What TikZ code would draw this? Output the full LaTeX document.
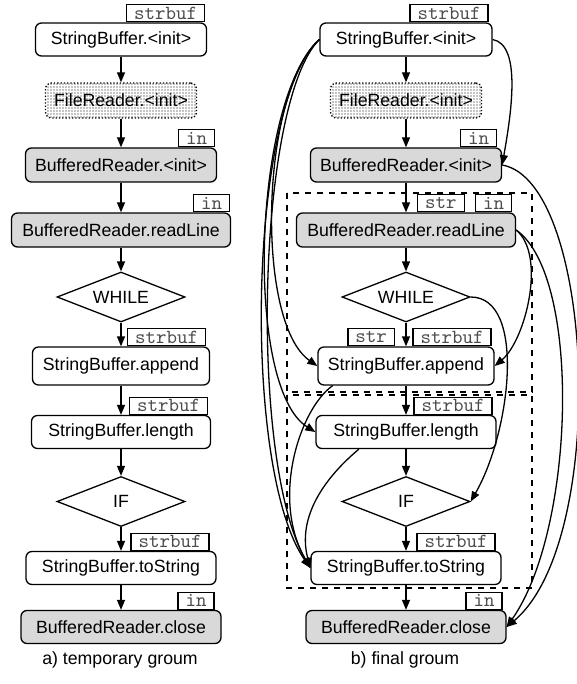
\documentclass[tikz,border=0pt]{standalone}
\usepackage{fontspec}
\setmainfont{Liberation Sans}
\usetikzlibrary{positioning,shapes.geometric,arrows.meta,patterns.meta}
\newcommand{\vartag}[4]{\node[vartag, anchor=south east] (#1) at ([xshift=#3]#2) {#4};}
\tikzset{
  call/.style={draw, rounded corners=3pt, minimum height=16.5pt, inner sep=0pt, line width=0.65pt},
  brcall/.style={call, fill=black!15},
  frcall/.style={call, densely dotted, pattern={Dots[distance=1.5pt, radius=0.36pt]}},
  ctrl/.style={diamond, draw, aspect=2.56, minimum width=64pt, minimum height=25pt, inner sep=0pt, line width=0.65pt},
  vartag/.style={draw, inner xsep=3.75pt, inner ysep=0pt, minimum height=8.5pt, line width=0.65pt, text=black!70, font=\ttfamily\fontsize{10}{10}\selectfont},
  flow/.style={-{Triangle[length=5pt, width=4pt]}, line width=0.65pt},
  groupbox/.style={draw, dashed, line width=0.8pt}
}

\begin{document}
\begin{tikzpicture}[on grid, font=\fontsize{8.85}{10.6}\selectfont]
\useasboundingbox (0,0) rectangle (288.5pt,-342pt);
% a) temporary groum
\node[call, minimum width=85.5pt] (lsbinit) at (60.5pt,-19.75pt) {StringBuffer.<init>};
\node[frcall, minimum width=75.5pt, minimum height=17.5pt, below=30.5pt of lsbinit] (lfrinit) {FileReader.<init>};
\node[brcall, minimum width=95.5pt, minimum height=17pt, below=32.25pt of lfrinit] (lbrinit) {BufferedReader.<init>};
\node[brcall, minimum width=109.5pt, minimum height=17pt, below=32.5pt of lbrinit] (lreadline) {BufferedReader.readLine};
\node[ctrl, below=33.5pt of lreadline] (lwhile) {WHILE};
\node[call, minimum width=88.5pt, minimum height=19pt, below=34.5pt of lwhile] (lappend) {StringBuffer.append};
\node[call, minimum width=89.5pt, below=33pt of lappend] (llength) {StringBuffer.length};
\node[ctrl, below=34.75pt of llength] (lif) {IF};
\node[call, minimum width=95pt, below=33.25pt of lif] (ltostring) {StringBuffer.toString};
\node[brcall, minimum width=100pt, below=29.5pt of ltostring] (lclose) {BufferedReader.close};
\vartag{ltsb}{lsbinit.north east}{-1pt}{strbuf}
\vartag{ltbi}{lbrinit.north east}{-1pt}{in}
\vartag{ltrl}{lreadline.north east}{-0.5pt}{in}
\vartag{ltap}{lappend.north east}{-2pt}{strbuf}
\vartag{ltle}{llength.north east}{-1.5pt}{strbuf}
\vartag{ltts}{ltostring.north east}{-3.5pt}{strbuf}
\vartag{ltcl}{lclose.north east}{-3.5pt}{in}
\draw[flow] (lsbinit) -- (lfrinit);
\draw[flow] (lfrinit) -- (lbrinit);
\draw[flow] (lbrinit) -- (lreadline);
\draw[flow] (lreadline) -- (lwhile);
\draw[flow] (lwhile) -- (lappend);
\draw[flow] (lappend) -- (llength);
\draw[flow] (llength) -- (lif);
\draw[flow] (lif) -- (ltostring);
\draw[flow] (ltostring) -- (lclose);
\node (lcap) at (60pt,-330pt) {a) temporary groum};
% b) final groum
\node[call, minimum width=86pt] (rsbinit) at (203pt,-19.75pt) {StringBuffer.<init>};
\node[frcall, minimum width=75.5pt, minimum height=17.5pt, below=30.5pt of rsbinit] (rfrinit) {FileReader.<init>};
\node[brcall, minimum width=95.5pt, minimum height=17pt, below=32.25pt of rfrinit] (rbrinit) {BufferedReader.<init>};
\node[brcall, minimum width=109.5pt, minimum height=17pt, below=32.5pt of rbrinit] (rreadline) {BufferedReader.readLine};
\node[ctrl, below=33.5pt of rreadline] (rwhile) {WHILE};
\node[call, minimum width=88pt, minimum height=19pt, below=34.5pt of rwhile] (rappend) {StringBuffer.append};
\node[call, minimum width=90pt, below=33pt of rappend] (rlength) {StringBuffer.length};
\node[ctrl, below=34.75pt of rlength] (rif) {IF};
\node[call, minimum width=95pt, below=33.25pt of rif] (rtostring) {StringBuffer.toString};
\node[brcall, minimum width=100pt, below=29.5pt of rtostring] (rclose) {BufferedReader.close};
\vartag{rtsb}{rsbinit.north east}{-2pt}{strbuf}
\vartag{rtbi}{rbrinit.north east}{-2.5pt}{in}
\vartag{rtrl}{rreadline.north east}{-2pt}{in}
\vartag{rtrs}{rtrl.south west}{-5pt}{str}
\vartag{rtap}{rappend.north east}{-1.5pt}{strbuf}
\vartag{rtas}{rappend.north}{-5.5pt}{str}
\vartag{rtle}{rlength.north east}{-2pt}{strbuf}
\vartag{rtts}{rtostring.north east}{-3pt}{strbuf}
\vartag{rtcl}{rclose.north east}{-2pt}{in}
\draw[groupbox] (143.5pt,-96.5pt) rectangle (266pt,-196pt);
\draw[groupbox] (143.5pt,-197.5pt) rectangle (266pt,-294pt);
\draw[flow] (rsbinit) -- (rfrinit);
\draw[flow] (rfrinit) -- (rbrinit);
\draw[flow] (rbrinit) -- (rreadline);
\draw[flow] (rreadline) -- (rwhile);
\draw[flow] (rwhile) -- (rappend);
\draw[flow] (rappend) -- (rlength);
\draw[flow] (rlength) -- (rif);
\draw[flow] (rif) -- (rtostring);
\draw[flow] (rtostring) -- (rclose);
% dependency edges
\draw[flow] (rsbinit.east) to[out=-10, in=80, out distance=15pt, in distance=25pt] (rbrinit.east);
\draw[flow] (rsbinit.west) to[out=222, in=145, out distance=40pt, in distance=38pt] (rappend.west);
\draw[flow] (rsbinit.west) to[out=222, in=148, out distance=45pt, in distance=42pt] (rlength.west);
\draw[flow] (rsbinit.west) to[out=225, in=120, out distance=44pt, in distance=62pt] (rtostring.west);
\draw[flow] (rsbinit.west) to[out=222, in=125, out distance=48pt, in distance=60pt] (rtostring.west);
\draw[flow] (rappend.195) to[out=215, in=120, out distance=20pt, in distance=40pt] (rtostring.west);
\draw[flow] (rlength.200) to[out=220, in=105, out distance=15pt, in distance=30pt] (rtostring.west);
\draw[flow] (rreadline.east) to[out=-40, in=40, out distance=20pt, in distance=20pt] (rappend.east);
\draw[flow] (rreadline.east) to[out=-35, in=55, out distance=40pt, in distance=60pt] (rclose.east);
\draw[flow] (rbrinit.east) to[out=-10, in=40, out distance=47pt, in distance=67pt] (rclose.east);
\draw[flow] (rwhile.east) to[out=0, in=60, out distance=28pt, in distance=40pt] (rif.east);
\node (rcap) at (202.5pt,-330pt) {b) final groum};
\end{tikzpicture}
\end{document}
